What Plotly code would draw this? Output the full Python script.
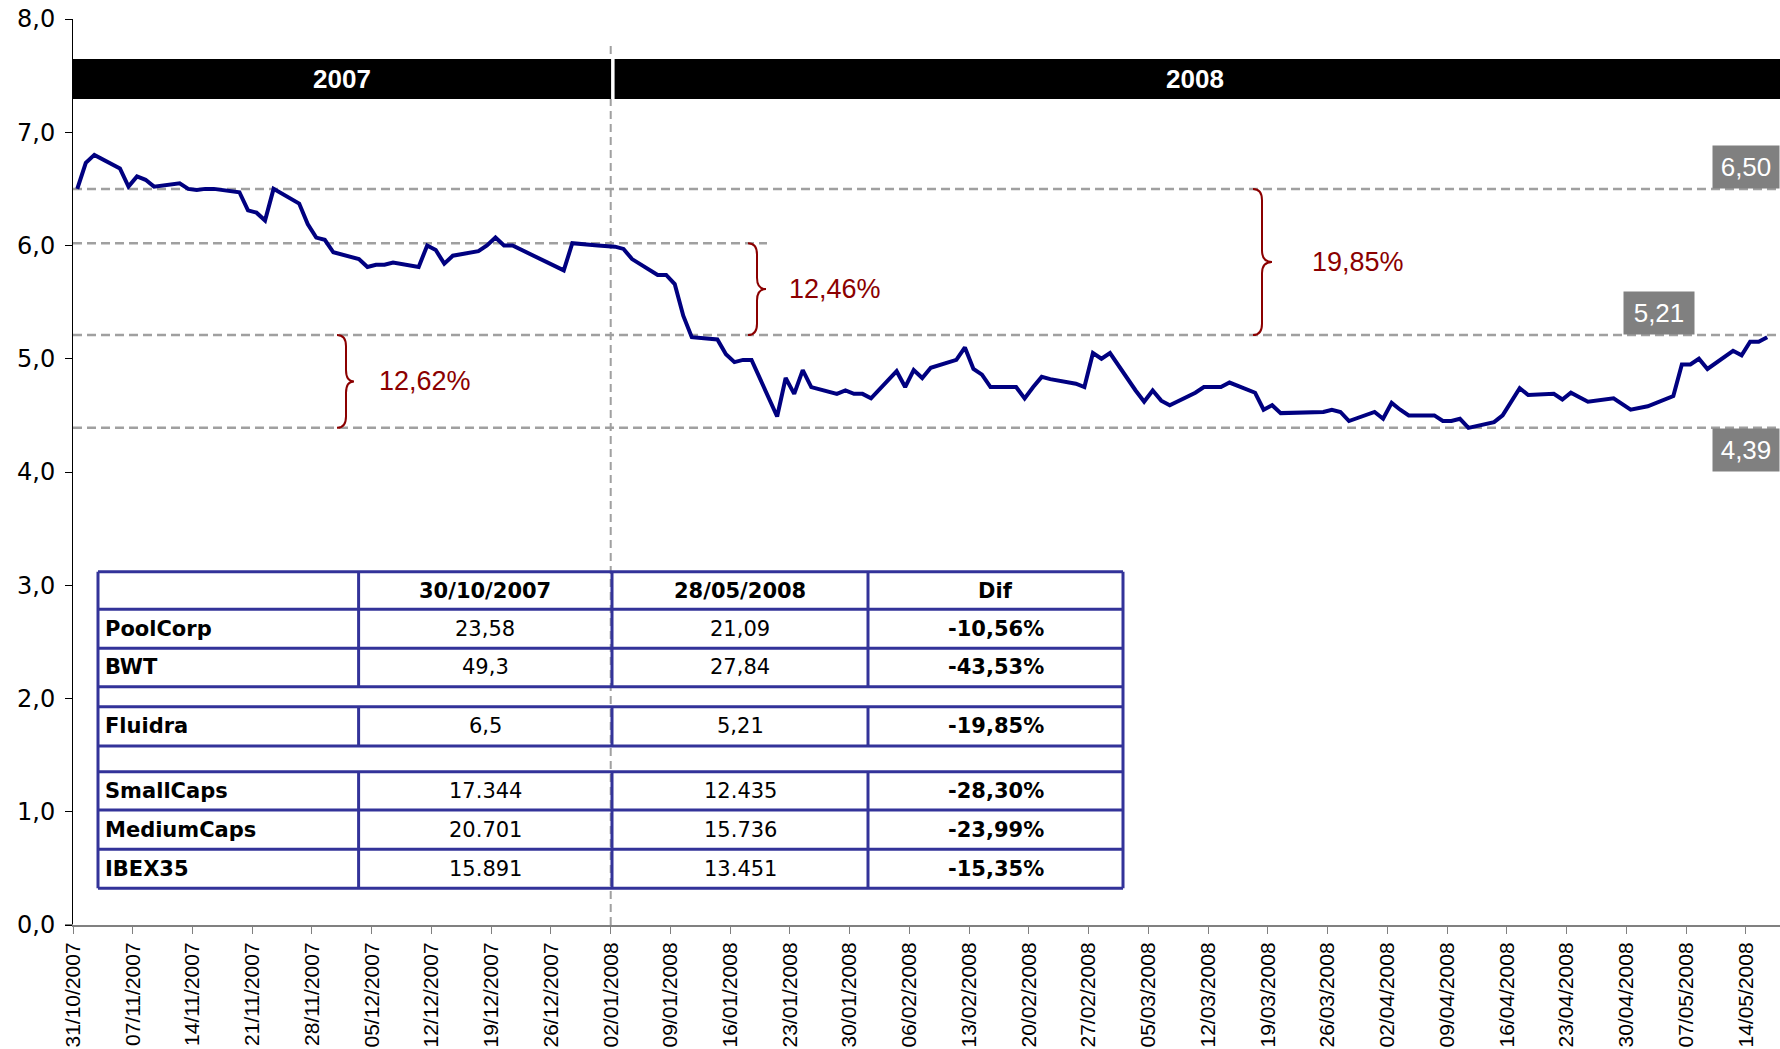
import plotly.graph_objects as go
import pandas as pd

# ---------------- data ----------------
dates = [
    "2007-10-31", "2007-11-01", "2007-11-02", "2007-11-05", "2007-11-06", "2007-11-07", "2007-11-08", "2007-11-09",
    "2007-11-12", "2007-11-13", "2007-11-14", "2007-11-15", "2007-11-16",
    "2007-11-19", "2007-11-20", "2007-11-21", "2007-11-22", "2007-11-23",
    "2007-11-26", "2007-11-27", "2007-11-28", "2007-11-29", "2007-11-30",
    "2007-12-03", "2007-12-04", "2007-12-05", "2007-12-06", "2007-12-07",
    "2007-12-10", "2007-12-11", "2007-12-12", "2007-12-13", "2007-12-14",
    "2007-12-17", "2007-12-18", "2007-12-19", "2007-12-20", "2007-12-21",
    "2007-12-27", "2007-12-28", "2007-12-31",
    "2008-01-02", "2008-01-03", "2008-01-04",
    "2008-01-07", "2008-01-08", "2008-01-09", "2008-01-10", "2008-01-11",
    "2008-01-14", "2008-01-15", "2008-01-16", "2008-01-17", "2008-01-18",
    "2008-01-21", "2008-01-22", "2008-01-23", "2008-01-24", "2008-01-25",
    "2008-01-28", "2008-01-29", "2008-01-30", "2008-01-31", "2008-02-01",
    "2008-02-04", "2008-02-05", "2008-02-06", "2008-02-07", "2008-02-08",
    "2008-02-11", "2008-02-12", "2008-02-13", "2008-02-14", "2008-02-15",
    "2008-02-18", "2008-02-19", "2008-02-20", "2008-02-21", "2008-02-22",
    "2008-02-25", "2008-02-26", "2008-02-27", "2008-02-28", "2008-02-29",
    "2008-03-03", "2008-03-04", "2008-03-05", "2008-03-06", "2008-03-07",
    "2008-03-10", "2008-03-11", "2008-03-12", "2008-03-13", "2008-03-14",
    "2008-03-17", "2008-03-18", "2008-03-19", "2008-03-20",
    "2008-03-25", "2008-03-26", "2008-03-27", "2008-03-28",
    "2008-03-31", "2008-04-01", "2008-04-02", "2008-04-03", "2008-04-04",
    "2008-04-07", "2008-04-08", "2008-04-09", "2008-04-10", "2008-04-11",
    "2008-04-14", "2008-04-15", "2008-04-16", "2008-04-17", "2008-04-18",
    "2008-04-21", "2008-04-22", "2008-04-23", "2008-04-24", "2008-04-25",
    "2008-04-28", "2008-04-29", "2008-04-30",
    "2008-05-02",
    "2008-05-05", "2008-05-06", "2008-05-07", "2008-05-08", "2008-05-09",
    "2008-05-12", "2008-05-13", "2008-05-14", "2008-05-15", "2008-05-16",
]
prices = [
    6.50, 6.73, 6.80, 6.68, 6.52, 6.61, 6.58, 6.52,
    6.55, 6.50, 6.49, 6.50, 6.50,
    6.47, 6.31, 6.29, 6.22, 6.50,
    6.37, 6.19, 6.07, 6.05, 5.94,
    5.88, 5.81, 5.83, 5.83, 5.85,
    5.81, 6.00, 5.96, 5.84, 5.91,
    5.95, 6.00, 6.07, 6.00, 6.00,
    5.78, 6.02, 6.00,
    5.99, 5.97, 5.88,
    5.74, 5.74, 5.66, 5.38, 5.19,
    5.17, 5.04, 4.97, 4.99, 4.99,
    4.49, 4.83, 4.69, 4.90, 4.75,
    4.69, 4.72, 4.69, 4.69, 4.65,
    4.89, 4.75, 4.90, 4.83, 4.92,
    4.99, 5.10, 4.91, 4.86, 4.75,
    4.75, 4.65, 4.75, 4.84, 4.82,
    4.78, 4.75, 5.05, 5.00, 5.05,
    4.72, 4.62, 4.72, 4.63, 4.59,
    4.70, 4.75, 4.75, 4.75, 4.79,
    4.70, 4.55, 4.59, 4.52,
    4.53, 4.55, 4.53, 4.45,
    4.53, 4.47, 4.61, 4.55, 4.50,
    4.50, 4.45, 4.45, 4.47, 4.39,
    4.44, 4.50, 4.62, 4.74, 4.68,
    4.69, 4.64, 4.70, 4.66, 4.62,
    4.65, 4.60, 4.55,
    4.58,
    4.67, 4.95, 4.95, 5.00, 4.91,
    5.07, 5.03, 5.15, 5.15, 5.19,
]

year_labels = ["2007", "2008"]
year_split = "2008-01-02"
axis_start = "2007-10-31"
axis_end = "2008-05-18"

level_values = [6.50, 5.21, 4.39]
level_labels = ["6,50", "5,21", "4,39"]
level_partial = 6.02

pct_labels = ["12,62%", "12,46%", "19,85%"]
pct_top = [5.21, 6.02, 6.50]
pct_bottom = [4.39, 5.21, 5.21]

table_header = ["", "30/10/2007", "28/05/2008", "Dif"]
table_names = ["PoolCorp", "BWT", "", "Fluidra", "", "SmallCaps", "MediumCaps", "IBEX35"]
table_start = ["23,58", "49,3", "", "6,5", "", "17.344", "20.701", "15.891"]
table_end = ["21,09", "27,84", "", "5,21", "", "12.435", "15.736", "13.451"]
table_dif = ["-10,56%", "-43,53%", "", "-19,85%", "", "-28,30%", "-23,99%", "-15,35%"]

# ---------------- layout geometry ----------------
FIG_W, FIG_H = 1780, 1049
L, R, T, B = 73, 1780, 19, 925
W, H = R - L, B - T


def X(px):
    return (px - L) / W


def Y(py):
    return (B - py) / H


def V(py):
    return (B - py) / H * 8.0


NAVY = "#000080"
DASH_C = "#a0a0a0"
RED = "#8b0000"
GRAY_BOX = "#808080"
TBL = "#333399"
FONT = "Liberation Sans, Arial, sans-serif"
WFONT = "DejaVu Sans, Verdana, sans-serif"

x_plot = pd.to_datetime(dates) + pd.Timedelta(hours=12)

fig = go.Figure()
fig.add_trace(go.Scatter(x=x_plot, y=prices, mode="lines",
                         line=dict(color=NAVY, width=4), hoverinfo="skip",
                         showlegend=False))

shapes = []
annotations = []

# small extension of the category axis line to the left of the value axis
shapes.append(dict(type="line", xref="paper", yref="y", x0=X(65), x1=0, y0=0, y1=0,
                   line=dict(color="#808080", width=2)))

# vertical dashed line at year split
shapes.append(dict(type="line", xref="x", yref="y", x0=year_split, x1=year_split,
                   y0=0, y1=V(45), line=dict(color=DASH_C, width=2, dash="8px,5px"),
                   layer="below"))

# horizontal dashed reference lines
for v in level_values:
    shapes.append(dict(type="line", xref="paper", yref="y", x0=0, x1=1, y0=v, y1=v,
                       line=dict(color=DASH_C, width=2.5, dash="9px,5px"), layer="below"))
shapes.append(dict(type="line", xref="paper", yref="y", x0=0, x1=X(767), y0=level_partial,
                   y1=level_partial, line=dict(color=DASH_C, width=2.5, dash="9px,5px"),
                   layer="below"))

# black year bar
bar_top, bar_bot = V(59), V(99)
shapes.append(dict(type="rect", xref="x", yref="y", x0=axis_start, x1=axis_end,
                   y0=bar_bot, y1=bar_top, fillcolor="black", line=dict(width=0)))
split_ts = pd.Timestamp(year_split)
shapes.append(dict(type="line", xref="x", yref="y", x0=split_ts + pd.Timedelta(hours=6),
                   x1=split_ts + pd.Timedelta(hours=6), y0=bar_bot, y1=bar_top,
                   line=dict(color="white", width=3.5)))
s0, s1, s2 = pd.Timestamp(axis_start), split_ts, pd.Timestamp(axis_end)
for lbl, a, b in [(year_labels[0], s0, s1), (year_labels[1], s1, s2)]:
    annotations.append(dict(x=a + (b - a) / 2, y=(bar_top + bar_bot) / 2, xref="x", yref="y",
                            text="<b>%s</b>" % lbl, showarrow=False,
                            font=dict(family=FONT, size=26, color="white")))

# gray value boxes
box_specs = [  # (right px, width px, anchor)
    (1780, 66, "bottom"),
    (1695, 70, "bottom"),
    (1780, 66, "top"),
]
for v, lbl, (rpx, bw, ya) in zip(level_values, level_labels, box_specs):
    annotations.append(dict(x=X(rpx), y=v, xref="paper", yref="y", xanchor="right",
                            yanchor=ya, text=lbl, showarrow=False, bgcolor=GRAY_BOX,
                            width=bw, height=42, borderpad=0,
                            font=dict(family=FONT, size=26, color="white")))

# curly braces
brace_px = [(337, 346, 354, 377), (748, 757, 766, 787), (1253, 1262, 1272, 1310)]
r = 0.1
for (xl, xs, xt, xtext), top, bot, lbl in zip(brace_px, pct_top, pct_bottom, pct_labels):
    a, s, t = X(xl), X(xs), X(xt)
    mid = (top + bot) / 2
    path = (f"M{a},{top} Q{s},{top} {s},{top - r} L{s},{mid + r} "
            f"Q{s},{mid} {t},{mid} Q{s},{mid} {s},{mid - r} "
            f"L{s},{bot + r} Q{s},{bot} {a},{bot}")
    shapes.append(dict(type="path", xref="paper", yref="y", path=path,
                       line=dict(color=RED, width=2)))
    annotations.append(dict(x=X(xtext), y=mid, xref="paper", yref="y", xanchor="left",
                            yanchor="middle", text=lbl, showarrow=False,
                            font=dict(family=FONT, size=27, color=RED)))

# ---------------- table ----------------
col_px = [98, 358.6, 612, 868, 1123]
row_px = [571.7, 609.3, 648.3, 686.7, 706.7, 746, 771.7, 810, 849.3, 888.3]
lw = 3
for ry in row_px:
    shapes.append(dict(type="line", xref="paper", yref="paper", x0=X(col_px[0]), x1=X(col_px[-1]),
                       y0=Y(ry), y1=Y(ry), line=dict(color=TBL, width=lw)))
for cx in (col_px[0], col_px[-1]):
    shapes.append(dict(type="line", xref="paper", yref="paper", x0=X(cx), x1=X(cx),
                       y0=Y(row_px[0]), y1=Y(row_px[-1]), line=dict(color=TBL, width=lw)))
rows_all = [table_header] + [[n, s, e, d] for n, s, e, d in
                             zip(table_names, table_start, table_end, table_dif)]
for i, row in enumerate(rows_all):
    blank = all(c == "" for c in row)
    y0, y1 = Y(row_px[i]), Y(row_px[i + 1])
    if not blank:
        for cx in col_px[1:-1]:
            shapes.append(dict(type="line", xref="paper", yref="paper", x0=X(cx), x1=X(cx),
                               y0=y0, y1=y1, line=dict(color=TBL, width=lw)))
    yc = (y0 + y1) / 2
    for j, txt in enumerate(row):
        if txt == "":
            continue
        bold = (i == 0) or j == 0 or j == 3
        if j == 0:
            xa, xx = "left", X(col_px[0] + 5)
        else:
            xa, xx = "center", X((col_px[j] + col_px[j + 1]) / 2)
        annotations.append(dict(x=xx, y=yc, xref="paper", yref="paper", xanchor=xa,
                                yanchor="middle", showarrow=False,
                                text=("<b>%s</b>" % txt) if bold else txt,
                                font=dict(family=WFONT, size=21, color="black")))

fig.update_layout(
    width=FIG_W, height=FIG_H,
    margin=dict(l=L, r=FIG_W - R, t=T, b=FIG_H - B),
    paper_bgcolor="white", plot_bgcolor="white",
    separators=",.",
    showlegend=False,
    shapes=shapes, annotations=annotations,
    xaxis=dict(type="date", range=[axis_start, axis_end], tick0=axis_start,
               dtick=7 * 86400000, tickformat="%d/%m/%Y", tickangle=-90,
               ticks="outside", ticklen=7, tickcolor="#808080", tickwidth=1,
               showline=True, linecolor="#808080", linewidth=2, showgrid=False,
               zeroline=False, tickfont=dict(family=FONT, size=21, color="black")),
    yaxis=dict(range=[0, 8], dtick=1, tickformat=".1f", ticks="outside", ticklen=7,
               tickcolor="black", tickwidth=1, showline=True, linecolor="black",
               linewidth=1, showgrid=False, zeroline=False,
               tickfont=dict(family=WFONT, size=24, color="black"), ticklabelstandoff=5),
)

fig.write_html("out.html", config={"displayModeBar": False},
               post_script="document.body.style.margin='0px';")
